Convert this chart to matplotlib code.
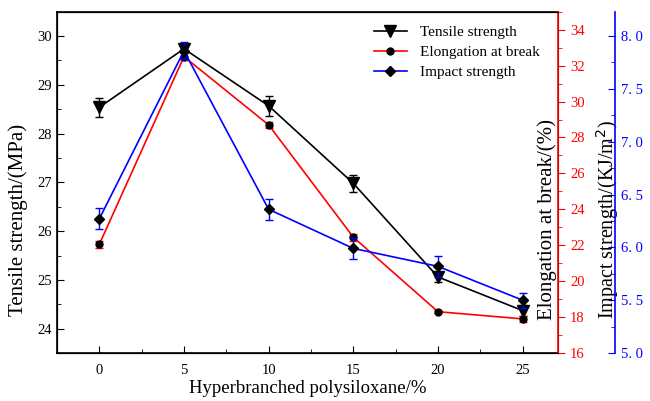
import numpy as np
import matplotlib
matplotlib.use('Agg')
from matplotlib import pyplot as plt
from matplotlib.lines import Line2D
from matplotlib.ticker import MultipleLocator

plt.rcParams['font.family'] = ['Liberation Serif', 'DejaVu Serif']

x = [0, 5, 10, 15, 20, 25]
tensile = [28.54, 29.74, 28.57, 26.98, 25.06, 24.37]
tensile_err = [0.19, 0.08, 0.2, 0.18, 0.1, 0.12]
elong = [22.05, 32.5, 28.7, 22.45, 18.3, 17.9]
elong_err = [0.2, 0.2, 0.15, 0.2, 0.1, 0.15]
impact = [6.27, 7.86, 6.36, 5.99, 5.82, 5.50]
impact_err = [0.1, 0.08, 0.1, 0.1, 0.1, 0.07]
blue_ticks = [5.0, 5.5, 6.0, 6.5, 7.0, 7.5, 8.0]

fig = plt.figure(figsize=(6.5, 4.01), dpi=100)
ax = fig.add_axes([0.0877, 0.1197, 0.771, 0.851])
ax2 = ax.twinx()
ax3 = ax.twinx()

ax.errorbar(x, tensile, yerr=tensile_err, color='black', marker='v', ms=8, mfc='black', mec='black',
            lw=1.2, capsize=3, elinewidth=1)
ax2.errorbar(x, elong, yerr=elong_err, color='red', marker='o', ms=5, mfc='black', mec='black',
             lw=1.2, capsize=3, elinewidth=1)
ax3.errorbar(x, impact, yerr=impact_err, color='blue', marker='D', ms=5, mfc='black', mec='black',
             lw=1.2, capsize=3, elinewidth=1)

ax.set_xlim(-2.5, 27.1)
ax.set_ylim(23.5, 30.5)
ax2.set_ylim(16, 35)
ax3.set_ylim(5, 8.23)

ax.xaxis.set_major_locator(MultipleLocator(5))
ax.xaxis.set_minor_locator(MultipleLocator(2.5))
ax.yaxis.set_major_locator(MultipleLocator(1))
ax.yaxis.set_minor_locator(MultipleLocator(0.5))
ax.tick_params(axis='both', which='both', direction='in', labelsize=10.5)
ax.tick_params(axis='x', pad=8)
ax.tick_params(axis='y', which='both', right=False)
ax.tick_params(which='major', length=5)
ax.tick_params(which='minor', length=3)

ax2.yaxis.set_major_locator(MultipleLocator(2))
ax2.yaxis.set_minor_locator(MultipleLocator(1))
ax2.tick_params(axis='y', which='both', direction='out', colors='red', labelsize=10.5)
ax2.tick_params(which='major', length=5)
ax2.tick_params(which='minor', length=3)
ax2.spines['right'].set_color('red')
ax2.spines['right'].set_linewidth(1.2)

ax3.spines['right'].set_position(('axes', 1.114))
ax3.spines['right'].set_color('blue')
ax3.spines['right'].set_linewidth(1.2)
ax3.set_yticks(blue_ticks)
ax3.set_yticklabels([('%.1f' % v).replace('.', '. ') for v in blue_ticks])
ax3.yaxis.set_minor_locator(MultipleLocator(0.25))
ax3.tick_params(axis='y', which='both', direction='in', colors='blue', labelsize=10.5, pad=4)
ax3.tick_params(which='major', length=5)
ax3.tick_params(which='minor', length=3)

for s in ['left', 'bottom', 'top']:
    ax.spines[s].set_linewidth(1.2)

ax.set_xlabel('Hyperbranched polysiloxane/%', fontsize=13.5, labelpad=2)
ax.set_ylabel('Tensile strength/(MPa)', fontsize=15)
ax.yaxis.set_label_coords(-0.058, 0.39)
ax2.set_ylabel('Elongation at break/(%)', fontsize=15, color='black')
ax2.yaxis.set_label_coords(0.958, 0.39)
ax3.set_ylabel('Impact strength/(KJ/m$^2$)', fontsize=14.5, color='black')
ax3.yaxis.set_label_coords(1.072, 0.39)

handles = [
    Line2D([], [], color='black', lw=1.2, marker='v', ms=8, mfc='black', mec='black'),
    Line2D([], [], color='red', lw=1.2, marker='o', ms=5, mfc='black', mec='black'),
    Line2D([], [], color='blue', lw=1.2, marker='D', ms=5, mfc='black', mec='black'),
]
ax.legend(handles, ['Tensile strength', 'Elongation at break', 'Impact strength'],
          loc='upper right', bbox_to_anchor=(0.99, 1.0), frameon=False,
          fontsize=11, handlelength=2.2, labelspacing=0.42)

fig.savefig('out.png', dpi=100)
